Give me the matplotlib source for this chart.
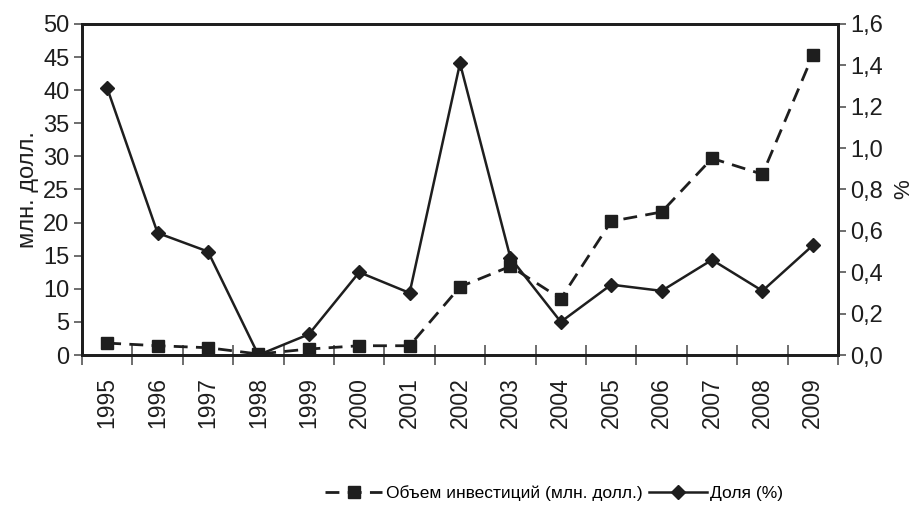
import matplotlib.pyplot as plt
from matplotlib.ticker import FixedLocator, FuncFormatter

years = ['1995', '1996', '1997', '1998', '1999', '2000', '2001', '2002',
         '2003', '2004', '2005', '2006', '2007', '2008', '2009']
invest = [1.8, 1.4, 1.1, 0.15, 0.9, 1.4, 1.4, 10.3, 13.4, 8.5, 20.2, 21.6, 29.7, 27.3, 45.3]
share = [1.29, 0.59, 0.50, 0.0, 0.10, 0.40, 0.30, 1.41, 0.47, 0.16, 0.34, 0.31, 0.46, 0.31, 0.53]

plt.rcParams['font.family'] = ['Liberation Sans', 'DejaVu Sans']
ink = '#1e1e1e'

fig = plt.figure(figsize=(9.19, 5.07), dpi=100)
ax = fig.add_axes([0.0892, 0.2998, 0.8227, 0.6529])
ax2 = ax.twinx()

x = list(range(len(years)))
l1, = ax.plot(x, invest, color=ink, lw=2, ls=(0, (5, 3)), marker='s', ms=8,
              label='Объем инвестиций (млн. долл.)')
l2, = ax2.plot(x, share, color=ink, lw=1.8, marker='D', ms=7,
               label='Доля (%)')

ax.set_xlim(-0.5, len(years) - 0.5)
ax.set_ylim(0, 50)
ax2.set_ylim(0, 1.6)
ax.set_yticks(range(0, 51, 5))
ax2.set_yticks([i * 0.2 for i in range(9)])
ax2.yaxis.set_major_formatter(FuncFormatter(lambda v, p: f'{v:.1f}'.replace('.', ',')))

ax.set_xticks(x)
ax.set_xticklabels(years, rotation=90, fontsize=16.5, color=ink)
ax.xaxis.set_minor_locator(FixedLocator([i - 0.5 for i in range(len(years) + 1)]))
ax.tick_params(axis='x', which='major', length=0, pad=16)
ax.tick_params(axis='x', which='minor', direction='inout', length=14, width=1.2, color='#555')
ax.tick_params(axis='y', labelsize=17, length=6, width=1.2, color='#555', labelcolor=ink, pad=3)
ax2.tick_params(axis='y', labelsize=17, length=6, width=1.2, color='#555', labelcolor=ink, pad=3)

for a in (ax, ax2):
    for s in a.spines.values():
        s.set_linewidth(2)
        s.set_color(ink)

ax.set_ylabel('млн. долл.', fontsize=17, color=ink, labelpad=3)
ax2.set_ylabel('%', fontsize=16, color=ink, labelpad=7)

fig.legend(handles=[l1, l2], loc='center', bbox_to_anchor=(0.603, 0.028),
           ncol=2, frameon=False, handlelength=3.3,
           handletextpad=0.2, columnspacing=0.4,
           prop={'family': ['Liberation Sans', 'DejaVu Sans'], 'size': 12.5})

fig.savefig('out.png', dpi=100, facecolor='white')
